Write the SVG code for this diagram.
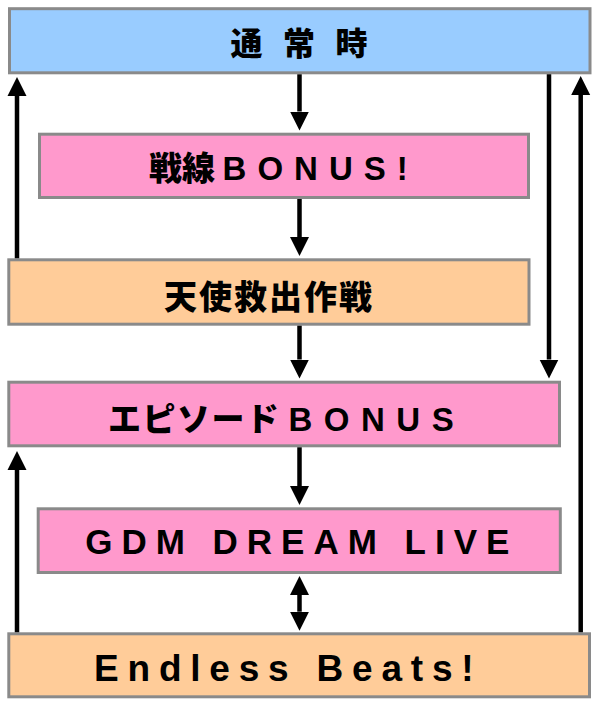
<svg xmlns="http://www.w3.org/2000/svg" width="600" height="707" viewBox="0 0 600 707">
<style>
.box{stroke:#8a8a8a;stroke-width:3}
.blue{fill:#99CCFF}
.pink{fill:#FF99CC}
.orange{fill:#FFCC99}
.lbl{font-family:"Liberation Sans","Noto Sans CJK JP",sans-serif;font-weight:bold;fill:#000}
.cjk{font-weight:900}
.conn{stroke:#000;stroke-width:4.5;fill:none}
</style>
<defs>
<marker id="ah" markerUnits="userSpaceOnUse" markerWidth="20" markerHeight="20" viewBox="0 -10 20 20" refX="0" refY="0" orient="auto-start-reverse">
<path d="M0,-9.5 L19,0 L0,9.5 Z" fill="#000"/>
</marker>
</defs>
<rect width="600" height="707" fill="#fff"/>
<g id="n1"><rect class="box blue" x="9.5" y="8.7" width="580.5" height="64.1"/><text class="lbl cjk" x="230.5" y="55" font-size="32" letter-spacing="20.5">通常時</text></g>
<g id="n2"><rect class="box pink" x="39.5" y="134.2" width="489" height="63.3"/><text class="lbl" x="149" y="179.5" font-size="33"><tspan class="cjk">戦線</tspan><tspan dx="7.6" letter-spacing="11">BONUS!</tspan></text></g>
<g id="n3"><rect class="box orange" x="8.8" y="259.8" width="520.2" height="64.4"/><text class="lbl cjk" x="164" y="308.5" font-size="33" letter-spacing="2">天使救出作戦</text></g>
<g id="n4"><rect class="box pink" x="8.8" y="382.2" width="550.7" height="63.6"/><text class="lbl" x="108" y="430.5" font-size="33"><tspan class="cjk" letter-spacing="1.5">エピソード</tspan><tspan dx="8" letter-spacing="11.5">BONUS</tspan></text></g>
<g id="n5"><rect class="box pink" x="38.2" y="508.8" width="522.1" height="63.7"/><text class="lbl" x="85.2" y="554" font-size="35" letter-spacing="9">GDM DREAM LIVE</text></g>
<g id="n6"><rect class="box orange" x="8.8" y="633.8" width="580.7" height="63"/><text class="lbl" x="94" y="680.5" font-size="37" letter-spacing="8.8">Endless Beats!</text></g>
<g id="connectors">
<path class="conn" d="M299.5,74.3 V111.5" marker-end="url(#ah)"/>
<path class="conn" d="M299.5,199 V237" marker-end="url(#ah)"/>
<path class="conn" d="M299.5,325.7 V359.5" marker-end="url(#ah)"/>
<path class="conn" d="M299.5,447.3 V486" marker-end="url(#ah)"/>
<path class="conn" d="M299.5,595 V611.7" marker-start="url(#ah)" marker-end="url(#ah)"/>
<path class="conn" d="M17,258.3 V96" marker-end="url(#ah)"/>
<path class="conn" d="M17,632.3 V470" marker-end="url(#ah)"/>
<path class="conn" d="M549,74.3 V359.5" marker-end="url(#ah)"/>
<path class="conn" d="M580.7,632.3 V95" marker-end="url(#ah)"/>
</g>
</svg>
